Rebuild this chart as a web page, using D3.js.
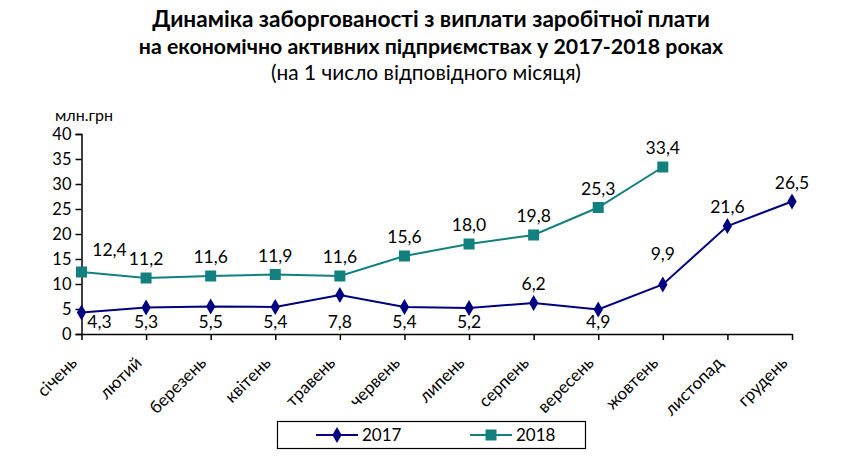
<!DOCTYPE html>
<html><head><meta charset="utf-8">
<script src="https://cdn.jsdelivr.net/npm/d3@7"></script>
<style>body{margin:0;background:#fff}svg{display:block}</style>
</head><body>
<script>
const months = ["січень","лютий","березень","квітень","травень","червень","липень","серпень","вересень","жовтень","листопад","грудень"];
const values2017 = [4.3,5.3,5.5,5.4,7.8,5.4,5.2,6.2,4.9,9.9,21.6,26.5];
const values2018 = [12.4,11.2,11.6,11.9,11.6,15.6,18.0,19.8,25.3,33.4];
const yTicks = [0,5,10,15,20,25,30,35,40];
const labelPlace2017 = ["belowRight","below","below","below","below","below","below","above","below","aboveHigh","above","above"];
const labelPlace2018 = ["aboveRight","above","above","above","above","above","above","above","above","above"];
const titleLines = ["Динаміка заборгованості з виплати заробітної плати","на економічно активних підприємствах у 2017-2018 роках"];
const subtitle = "(на 1 число відповідного місяця)";
const unitLabel = "млн.грн";

const W=842,H=470;
const svg=d3.select("body").append("svg").attr("width",W).attr("height",H);
const font="Lato, 'Open Sans', sans-serif";
const c17="#000080", c18="#138080";

function fitText(sel,target){
  const w=sel.node().getComputedTextLength();
  const fs=+sel.attr("font-size");
  sel.attr("font-size",fs*target/w);
}
const titleWidths=[558,585];
svg.selectAll("text.title").data(titleLines).join("text").attr("class","title")
  .attr("x",431).attr("y",(d,i)=>27+i*27).attr("text-anchor","middle")
  .attr("font-family",font).attr("font-weight","bold").attr("font-size",20).text(d=>d)
  .each(function(d,i){fitText(d3.select(this),titleWidths[i]);});
const st=svg.append("text").attr("x",426).attr("y",80).attr("text-anchor","middle")
  .attr("font-family",font).attr("font-size",18).text(subtitle);
fitText(st,310);

const x=d3.scalePoint().domain(months).range([81.5,792]);
const y=d3.scaleLinear().domain([0,40]).range([334,134]);

const gy=svg.append("g").attr("transform","translate(81.5,0)")
  .call(d3.axisLeft(y).tickValues(yTicks).tickSize(6).tickPadding(4));
gy.select(".domain").attr("stroke","#000").attr("stroke-width",1.5);
gy.selectAll(".tick line").attr("stroke","#000").attr("stroke-width",1.5);
gy.selectAll("text").attr("font-family",font).attr("font-size",16.5).attr("fill","#000");

const gx=svg.append("g").attr("transform","translate(0,334)")
  .call(d3.axisBottom(x).tickSize(6).tickSizeOuter(0));
gx.select(".domain").attr("stroke","#000").attr("stroke-width",1.5);
gx.selectAll(".tick line").attr("stroke","#000").attr("stroke-width",1.5);
gx.selectAll("text").attr("font-family",font).attr("font-size",17).attr("fill","#000")
  .attr("text-anchor","end").attr("dy",0).attr("y",0)
  .attr("transform","translate(-4,30) rotate(-45)");

svg.append("text").attr("x",84).attr("y",121).attr("text-anchor","middle")
  .attr("font-family",font).attr("font-size",16).text(unitLabel);

const line=d3.line().x((d,i)=>x(months[i])).y(d=>y(d));
svg.append("path").datum(values2017).attr("d",line).attr("fill","none").attr("stroke",c17).attr("stroke-width",2);
svg.append("path").datum(values2018).attr("d",line).attr("fill","none").attr("stroke",c18).attr("stroke-width",2);

const diamond=d3.symbol().type(d3.symbolDiamond).size(75);
svg.selectAll("path.m17").data(values2017).join("path")
  .attr("d",diamond).attr("fill",c17)
  .attr("transform",(d,i)=>`translate(${x(months[i])},${y(d)})`);
svg.selectAll("rect.m18").data(values2018).join("rect")
  .attr("x",(d,i)=>x(months[i])-5.5).attr("y",d=>y(d)-5.5).attr("width",11).attr("height",11).attr("fill",c18);

const fmt=v=>v.toFixed(1).replace(".",",");
function lblPos(place,v,i){
  const px=x(months[i]), py=y(v);
  switch(place){
    case "below": return [px, y(0)-6];
    case "belowRight": return [px+18, y(0)-6];
    case "above": return [px, py-13];
    case "aboveHigh": return [px, py-25];
    case "aboveRight": return [px+28, py-16];
  }
}
function drawLabels(vals,places){
  svg.append("g").selectAll("text").data(vals).join("text")
    .attr("x",(d,i)=>lblPos(places[i],d,i)[0]).attr("y",(d,i)=>lblPos(places[i],d,i)[1])
    .attr("text-anchor","middle").attr("font-family",font).attr("font-size",17.5).attr("fill","#000")
    .text(d=>fmt(d));
}
drawLabels(values2017,labelPlace2017);
drawLabels(values2018,labelPlace2018);

// legend
const lg=svg.append("g");
lg.append("rect").attr("x",277.5).attr("y",421.5).attr("width",308).attr("height",27).attr("fill","#fff").attr("stroke","#000").attr("stroke-width",1.2);
const leg=[{name:"2017",c:c17,t:"d",x0:316},{name:"2018",c:c18,t:"s",x0:470}];
leg.forEach(l=>{
  lg.append("line").attr("x1",l.x0).attr("x2",l.x0+42).attr("y1",435).attr("y2",435).attr("stroke",l.c).attr("stroke-width",2);
  if(l.t==="d") lg.append("path").attr("d",diamond).attr("fill",l.c).attr("transform",`translate(${l.x0+21},435)`);
  else lg.append("rect").attr("x",l.x0+15.5).attr("y",429.5).attr("width",11).attr("height",11).attr("fill",l.c);
  lg.append("text").attr("x",l.x0+46).attr("y",441).attr("font-family",font).attr("font-size",17).text(l.name);
});
</script>
</body></html>
